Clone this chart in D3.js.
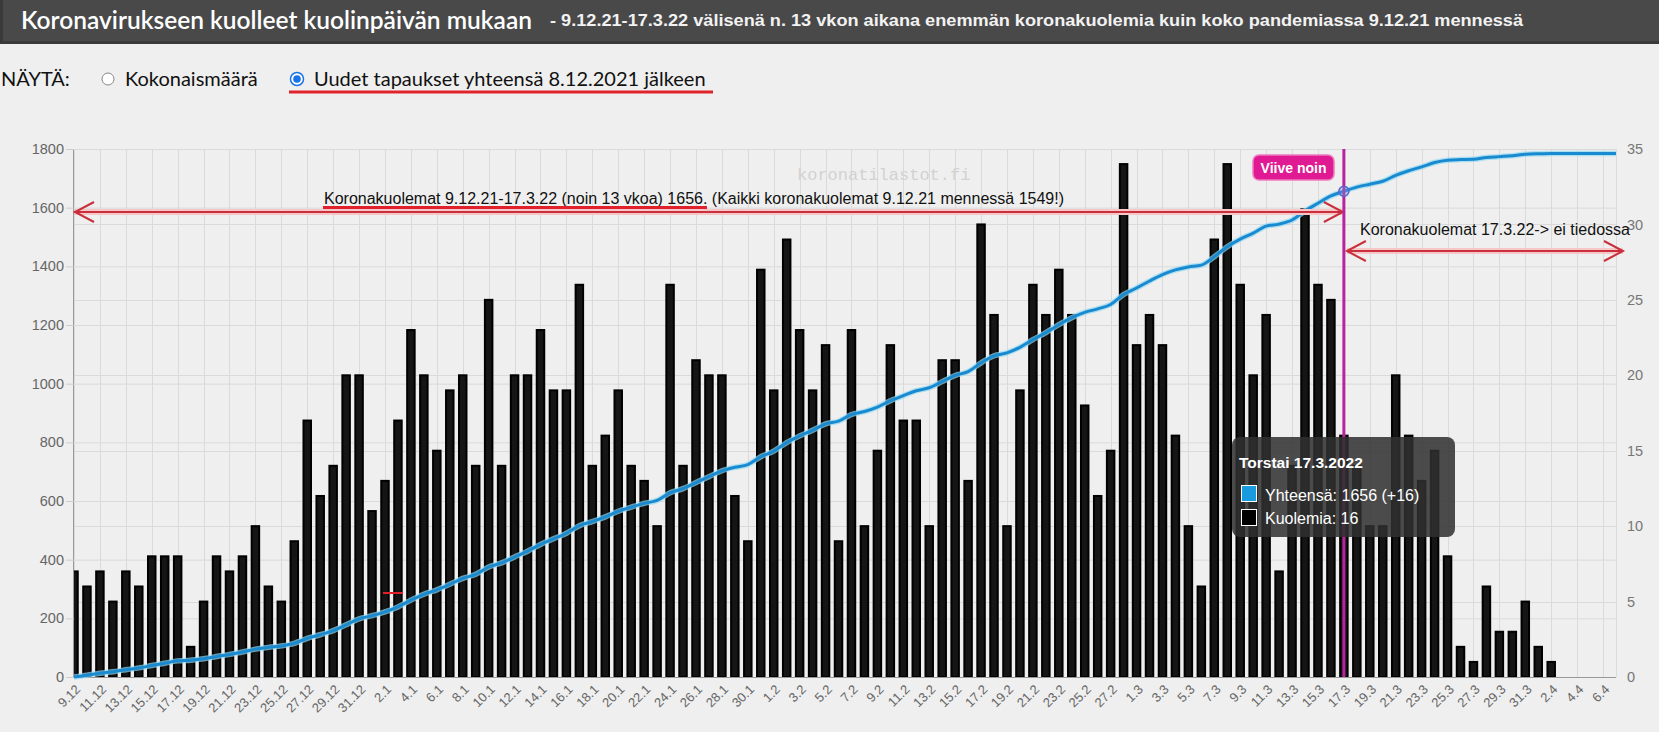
<!DOCTYPE html>
<html><head><meta charset="utf-8">
<script src="https://cdn.jsdelivr.net/npm/d3@7/dist/d3.min.js"></script>
<style>body{margin:0;background:#efefef;overflow:hidden}svg{display:block}</style>
</head><body>
<svg id="c" width="1659" height="732"></svg>
<script>
// ---------- DATA ----------
const days = ("9.12 10.12 11.12 12.12 13.12 14.12 15.12 16.12 17.12 18.12 19.12 20.12 21.12 22.12 23.12 24.12 25.12 26.12 27.12 28.12 29.12 30.12 31.12 " +
  "1.1 2.1 3.1 4.1 5.1 6.1 7.1 8.1 9.1 10.1 11.1 12.1 13.1 14.1 15.1 16.1 17.1 18.1 19.1 20.1 21.1 22.1 23.1 24.1 25.1 26.1 27.1 28.1 29.1 30.1 31.1 " +
  "1.2 2.2 3.2 4.2 5.2 6.2 7.2 8.2 9.2 10.2 11.2 12.2 13.2 14.2 15.2 16.2 17.2 18.2 19.2 20.2 21.2 22.2 23.2 24.2 25.2 26.2 27.2 28.2 " +
  "1.3 2.3 3.3 4.3 5.3 6.3 7.3 8.3 9.3 10.3 11.3 12.3 13.3 14.3 15.3 16.3 17.3 18.3 19.3 20.3 21.3 22.3 23.3 24.3 25.3 26.3 27.3 28.3 29.3 30.3 31.3 " +
  "1.4 2.4 3.4 4.4 5.4 6.4 7.4").split(" ");

// daily deaths (right axis)
const deaths = [7,6,7,5,7,6,8,8,8,2, 5,8,7,8,10,6,5,9,17,12, 14,20,20,11,13,17,23,20,15,19,
  20,14,25,14,20,20,23,19,19,26, 14,16,19,14,13,10,26,14,21,20, 20,12,9,27,19,29,23,19,22,9,
  23,10,15,22,17,17,10,21,21,13, 30,24,10,19,26,24,27,24,18,12, 15,34,22,24,22,16,10,6,29,34,
  26,20,24,7,14,31,26,25,16,14, 10,10,20,16,13,15,8,2,1,6, 3,3,5,2,1,0,0,0,0,0];

// cumulative total since 8.12.2021 (left axis)
const totals = [0,6,13,18,25,31,39,47,55,57, 62,70,77,85,95,101,106,115,132,144,
  158,178,198,209,222,239,262,282,297,316, 336,350,375,389,409,429,452,471,490,516,
  530,546,565,579,592,602,628,642,663,683, 703,715,724,751,770,799,822,841,863,872,
  895,905,920,942,959,976,986,1007,1028,1041, 1071,1095,1105,1124,1150,1174,1201,1225,1243,1255,
  1270,1304,1326,1350,1372,1388,1398,1404,1433,1467, 1493,1513,1537,1544,1558,1589,1615,1640,1656,1670,
  1680,1690,1710,1726,1739,1754,1762,1764,1765,1771, 1774,1777,1782,1784,1785,1785,1785,1785,1785,1785];

const leftTicks = [0,200,400,600,800,1000,1200,1400,1600,1800];
const rightTicks = [0,5,10,15,20,25,30,35];

const titleText = "Koronavirukseen kuolleet kuolinpäivän mukaan";
const subtitleText = "- 9.12.21-17.3.22 välisenä n. 13 vkon aikana enemmän koronakuolemia kuin koko pandemiassa 9.12.21 mennessä";
const showLabel = "NÄYTÄ:";
const options = ["Kokonaismäärä", "Uudet tapaukset yhteensä 8.12.2021 jälkeen"];
const note1 = "Koronakuolemat 9.12.21-17.3.22 (noin 13 vkoa) 1656. (Kaikki koronakuolemat 9.12.21 mennessä 1549!)";
const note2 = "Koronakuolemat 17.3.22-> ei tiedossa";
const delayLabel = "Viive noin";
const watermark = "koronatilastot.fi";
const hoverDay = "17.3";
const tooltipTitle = "Torstai 17.3.2022";

// ---------- LAYOUT ----------
const svg = d3.select("#c");
const L = 74, R = 1616, T = 149, B = 677;
const x = d3.scalePoint().domain(days).range([L, R]);
const yL = d3.scaleLinear().domain([0, 1800]).range([B, T]);
const yR = d3.scaleLinear().domain([0, 35]).range([B, T]);
const sans = "'Liberation Sans', Arial, sans-serif";

// header
svg.append("rect").attr("x",0).attr("y",0).attr("width",1659).attr("height",44).attr("fill","#494949");
svg.append("rect").attr("x",0).attr("y",41).attr("width",1659).attr("height",3).attr("fill","#3a3a3a");
svg.append("rect").attr("x",0).attr("y",0).attr("width",3).attr("height",44).attr("fill","#3a3a3a");
svg.append("text").attr("x",21).attr("y",29).attr("fill","#fff")
  .attr("font-family","Lato, sans-serif").attr("font-weight",600).attr("font-size",24)
  .attr("textLength",511).attr("lengthAdjust","spacingAndGlyphs").text(titleText);
svg.append("text").attr("x",550).attr("y",26).attr("fill","#f2f2f2")
  .attr("font-family",sans).attr("font-weight","bold").attr("font-size",17)
  .attr("textLength",973).attr("lengthAdjust","spacingAndGlyphs").text(subtitleText);

// radio row
const lato = "Lato, sans-serif";
svg.append("text").attr("x",1).attr("y",86).attr("fill","#111")
  .attr("font-family",lato).attr("font-size",20).text(showLabel);
svg.append("circle").attr("cx",108).attr("cy",79).attr("r",6).attr("fill","#fff").attr("stroke","#888").attr("stroke-width",1);
svg.append("text").attr("x",125).attr("y",86).attr("fill","#111")
  .attr("font-family",lato).attr("font-size",20).text(options[0]);
svg.append("circle").attr("cx",297).attr("cy",79).attr("r",6.5).attr("fill","#fff").attr("stroke","#1a73e8").attr("stroke-width",1.5);
svg.append("circle").attr("cx",297).attr("cy",79).attr("r",3.8).attr("fill","#1a73e8");
svg.append("text").attr("x",314).attr("y",86).attr("fill","#111")
  .attr("font-family",lato).attr("font-size",20).text(options[1]);
svg.append("line").attr("x1",289).attr("x2",713).attr("y1",92).attr("y2",92)
  .attr("stroke","#e0242c").attr("stroke-width",3);

// grid
const grid = svg.append("g").attr("stroke","#dadada").attr("stroke-width",1);
leftTicks.forEach(v => grid.append("line").attr("x1",L).attr("x2",R).attr("y1",yL(v)+0.5).attr("y2",yL(v)+0.5));
rightTicks.forEach(v => grid.append("line").attr("x1",L).attr("x2",R).attr("y1",Math.round(yR(v))+0.5).attr("y2",Math.round(yR(v))+0.5));
const tickDays = days.filter((d,i) => i % 2 === 0 && i <= 118);
tickDays.forEach(d => grid.append("line").attr("x1",Math.round(x(d))+0.5).attr("x2",Math.round(x(d))+0.5).attr("y1",T).attr("y2",B));
grid.append("line").attr("x1",R+0.5).attr("x2",R+0.5).attr("y1",T).attr("y2",B);

// watermark
svg.append("text").attr("x",797).attr("y",180).attr("fill","#d2d2d2")
  .attr("font-family","'Liberation Mono', monospace").attr("font-size",17).text(watermark);

// bars
svg.append("clipPath").attr("id","plotclip").append("rect").attr("x",L).attr("y",T-5).attr("width",R-L).attr("height",B-T+5);
const bw = 7.5;
svg.append("g").attr("clip-path","url(#plotclip)")
  .selectAll("rect").data(days.map((d,i)=>({d, v:deaths[i]})).filter(o=>o.v>0)).join("rect")
  .attr("x", o => x(o.d) - bw/2).attr("y", o => yR(o.v))
  .attr("width", bw).attr("height", o => B - yR(o.v))
  .attr("fill","#151515").attr("stroke","#000").attr("stroke-width",2);

// axes lines
svg.append("line").attr("x1",L-0.5).attr("x2",L-0.5).attr("y1",T).attr("y2",B).attr("stroke","#999");
svg.append("line").attr("x1",L).attr("x2",R).attr("y1",B+0.5).attr("y2",B+0.5).attr("stroke","#999");
leftTicks.forEach(v => svg.append("line").attr("x1",L-8).attr("x2",L).attr("y1",yL(v)+0.5).attr("y2",yL(v)+0.5).attr("stroke","#ccc"));

// cumulative line
const lineGen = d3.line().x((d,i)=>x(days[i])).y(d=>yL(d)).curve(d3.curveMonotoneX);
svg.append("path").datum(totals).attr("d",lineGen).attr("fill","none")
  .attr("stroke","#8fd8f2").attr("stroke-width",5.5).attr("stroke-opacity",0.7);
svg.append("path").datum(totals).attr("d",lineGen).attr("fill","none")
  .attr("stroke","#1a8ad0").attr("stroke-width",3);

// axis labels
svg.append("g").selectAll("text").data(leftTicks).join("text")
  .attr("x",64).attr("y",v=>yL(v)).attr("dy","0.35em").attr("text-anchor","end")
  .attr("font-family",sans).attr("font-size",14.5).attr("fill","#666").text(v=>v);
svg.append("g").selectAll("text").data(rightTicks).join("text")
  .attr("x",1627).attr("y",v=>yR(v)).attr("dy","0.35em")
  .attr("font-family",sans).attr("font-size",14.5).attr("fill","#777").text(v=>v);
svg.append("g").selectAll("text").data(tickDays).join("text")
  .attr("transform",d=>`translate(${x(d)+4},${B+10}) rotate(-45)`)
  .attr("text-anchor","end").attr("dy","0.35em")
  .attr("font-family",sans).attr("font-size",13).attr("fill","#666").text(d=>d);

// annotations
function arrowHead(g, tipX, y, dir) {
  g.append("path").attr("d",`M${tipX+dir*19},${y-10} L${tipX},${y} L${tipX+dir*19},${y+10}`)
    .attr("fill","none").attr("stroke","#c9303c").attr("stroke-width",2);
}
const xh = x(hoverDay);
const ann = svg.append("g");
const a1y = 212, a2y = 251;
ann.append("line").attr("x1",L).attr("x2",xh).attr("y1",a1y).attr("y2",a1y).attr("stroke","#f6c6c8").attr("stroke-width",6);
ann.append("line").attr("x1",L).attr("x2",xh).attr("y1",a1y).attr("y2",a1y).attr("stroke","#c9303c").attr("stroke-width",2);
arrowHead(ann, L+1, a1y, 1); arrowHead(ann, xh-1, a1y, -1);
ann.append("text").attr("x",324).attr("y",204).attr("font-family",sans).attr("font-size",16).attr("fill","#111").text(note1);
ann.append("line").attr("x1",323).attr("x2",707).attr("y1",207.5).attr("y2",207.5).attr("stroke","#e0202a").attr("stroke-width",3);
ann.append("line").attr("x1",xh+3).attr("x2",1623).attr("y1",a2y).attr("y2",a2y).attr("stroke","#f6c6c8").attr("stroke-width",6);
ann.append("line").attr("x1",xh+3).attr("x2",1623).attr("y1",a2y).attr("y2",a2y).attr("stroke","#c9303c").attr("stroke-width",2);
arrowHead(ann, xh+3, a2y, 1); arrowHead(ann, 1623, a2y, -1);
ann.append("text").attr("x",1360).attr("y",235).attr("font-family",sans).attr("font-size",16).attr("fill","#111").text(note2);
ann.append("line").attr("x1",383).attr("x2",403).attr("y1",593).attr("y2",593).attr("stroke","#e0202a").attr("stroke-width",2);

// delay label
ann.append("rect").attr("x",1253).attr("y",155).attr("width",81).attr("height",25).attr("rx",6)
  .attr("fill","#df1a92").attr("stroke","#f07ac0").attr("stroke-width",1.5);
ann.append("text").attr("x",1293.5).attr("y",172.5).attr("text-anchor","middle").attr("fill","#fff")
  .attr("font-family",sans).attr("font-weight","bold").attr("font-size",14).text(delayLabel);

// vertical marker
ann.append("line").attr("x1",xh).attr("x2",xh).attr("y1",T).attr("y2",B).attr("stroke","#b8249e").attr("stroke-width",3);
const hi = days.indexOf(hoverDay);
ann.append("circle").attr("cx",xh).attr("cy",yL(totals[hi])).attr("r",5)
  .attr("fill","rgba(120,150,230,0.35)").attr("stroke","#5a62c8").attr("stroke-width",1.5);

// tooltip
const tt = svg.append("g");
tt.append("rect").attr("x",1232).attr("y",437).attr("width",223).attr("height",100).attr("rx",8)
  .attr("fill","rgba(48,48,48,0.86)");
tt.append("text").attr("x",1239).attr("y",468).attr("fill","#fff").attr("font-family",sans)
  .attr("font-weight","bold").attr("font-size",15.5).text(tooltipTitle);
tt.append("rect").attr("x",1241.5).attr("y",485.5).attr("width",15).attr("height",16).attr("fill","#1a9be0").attr("stroke","#fff").attr("stroke-width",1);
tt.append("text").attr("x",1265).attr("y",501).attr("fill","#fff").attr("font-family",sans).attr("font-size",16)
  .text(`Yhteensä: ${totals[hi]} (+${deaths[hi]})`);
tt.append("rect").attr("x",1241.5).attr("y",509.5).attr("width",15).attr("height",16).attr("fill","#000").attr("stroke","#fff").attr("stroke-width",1);
tt.append("text").attr("x",1265).attr("y",524).attr("fill","#fff").attr("font-family",sans).attr("font-size",16)
  .text(`Kuolemia: ${deaths[hi]}`);
</script>
</body></html>
